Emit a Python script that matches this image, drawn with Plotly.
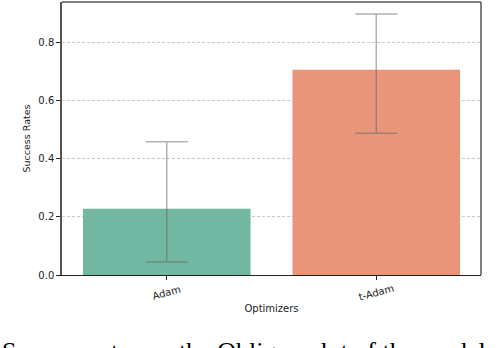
import plotly.graph_objects as go

optimizers = ["Adam", "t-Adam"]
success_rates = [0.228, 0.707]
err_plus = [0.231, 0.192]
err_minus = [0.183, 0.219]
bar_colors = ["#72b7a1", "#e8957a"]
y_ticks = [0.0, 0.2, 0.4, 0.6, 0.8]
caption = "Success rates on the Oblique plot of the model"

fig = go.Figure()
fig.add_trace(go.Bar(
    x=[0, 1], y=success_rates, width=0.8,
    marker=dict(color=bar_colors, line=dict(width=0)),
    error_y=dict(type="data", symmetric=False, array=err_plus, arrayminus=err_minus,
                 color="rgba(100,100,100,0.5)", thickness=1.5, width=21),
    showlegend=False,
))

tick_annotations = [dict(text=name, xref="x", yref="paper", x=i, y=(275 - 292) / 273,
                         xanchor="center", yanchor="middle", textangle=-15, showarrow=False,
                         font=dict(family="DejaVu Sans", size=10, color="#222"))
                    for i, name in enumerate(optimizers)]

fig.update_layout(
    width=498, height=348,
    margin=dict(l=62, r=17, t=2, b=73, autoexpand=False),
    plot_bgcolor="white", paper_bgcolor="white",
    font=dict(family="DejaVu Sans", size=10, color="#222"),
    xaxis=dict(range=[-0.5, 1.5], tickvals=[0, 1], ticktext=optimizers, showticklabels=False,
               ticks="outside", ticklen=4, tickcolor="#222", showgrid=False, automargin=False,
               showline=True, linecolor="#222", linewidth=1.2, mirror=False,
               title=dict(text="Optimizers", font=dict(size=10), standoff=25), zeroline=False),
    yaxis=dict(range=[0, 0.94], tickvals=y_ticks, tickformat=".1f", automargin=False,
               ticks="outside", ticklen=4, tickcolor="#222",
               showgrid=True, gridcolor="#c8c8c8", griddash="3px,2px", gridwidth=1,
               showline=True, linecolor="#555", linewidth=1.5, mirror=False,
               title=dict(text="Success Rates", font=dict(size=9.5), standoff=6), zeroline=False),
    shapes=[
        dict(type="line", xref="paper", yref="paper", x0=0, x1=1, y0=1, y1=1,
             line=dict(color="#555", width=1.5)),
        dict(type="line", xref="paper", yref="paper", x0=1, x1=1, y0=0, y1=1,
             line=dict(color="#555", width=1.5)),
    ],
    annotations=tick_annotations + [
        dict(text=caption, xref="paper", yref="paper", x=-62/419, y=(275-335)/273,
             xanchor="left", yanchor="top", showarrow=False,
             font=dict(family="Liberation Serif", size=26, color="black"))],
)

fig.write_html("out.html", config={"displayModeBar": False},
               post_script="document.body.style.margin='0';document.body.style.overflow='hidden';")
